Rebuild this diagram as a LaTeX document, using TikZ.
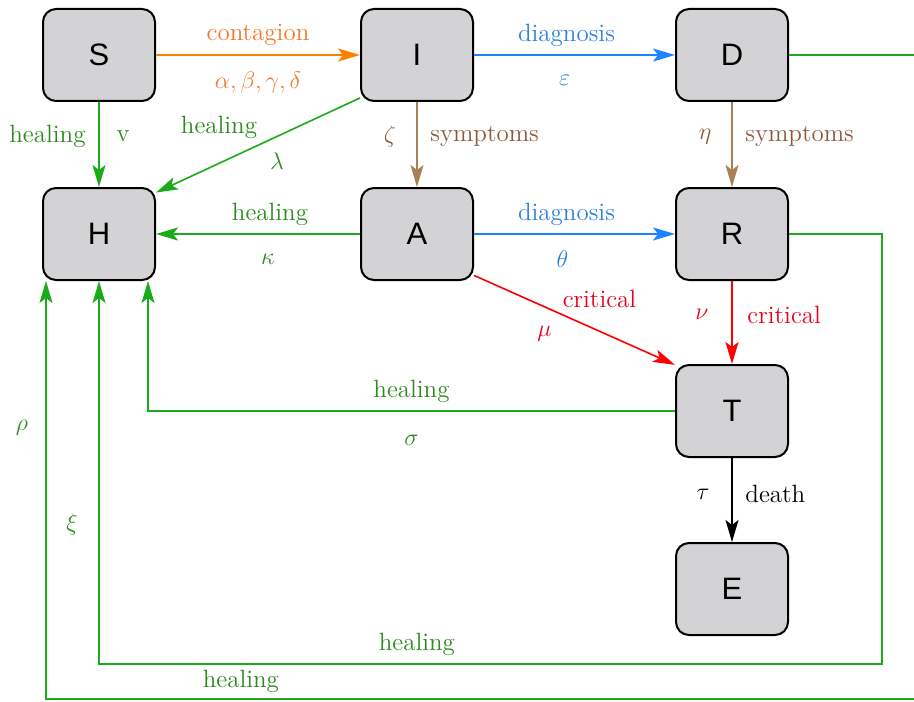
\documentclass[tikz,border=0pt]{standalone}
\usepackage{fontspec}
\usepackage{amsmath}
\usetikzlibrary{arrows.meta,calc,positioning}
\newfontfamily\boxfont{Liberation Sans}
\definecolor{boxgray}{HTML}{D3D3D5}
\definecolor{orangeline}{HTML}{FF8000}
\definecolor{orangetext}{HTML}{F07828}
\definecolor{blueline}{HTML}{1A85FF}
\definecolor{bluetext}{HTML}{2F7FE0}
\definecolor{brownline}{HTML}{A88055}
\definecolor{browntext}{HTML}{8C5A3A}
\definecolor{greenline}{HTML}{1AAA1A}
\definecolor{greentext}{HTML}{2D8A1F}
\definecolor{redline}{HTML}{FF0000}
\definecolor{redtext}{HTML}{E8001C}
\tikzset{
  comp/.style={draw=black,line width=1pt,fill=boxgray,rounded corners=6.5pt,
    minimum width=56pt,minimum height=46pt,font=\boxfont\fontsize{15.5}{18}\selectfont},
  flow/.style={line width=0.8pt,-{Stealth[length=11pt,width=6.5pt,inset=2.5pt]}},
  over/.style={yshift=10pt},
  under/.style={yshift=-12.5pt}
}

\begin{document}
\begin{tikzpicture}[x=0.5pt,y=-0.5pt,every node/.append style={font=\fontsize{12.5}{15}\selectfont}]
			\useasboundingbox (0,0) rectangle (914,701);
			\clip (0,0) rectangle (914,701);
			% compartments
			\node[comp] (S) at (99,55) {S};
			\node[comp] (I) at (417,55) {I};
			\node[comp] (D) at (732,55) {D};
			\node[comp] (H) at (99,234) {H};
			\node[comp] (A) at (417,234) {A};
			\node[comp] (R) at (732,234) {R};
			\node[comp] (T) at (732,411) {T};
			\node[comp] (E) at (732,589) {E};
			\coordinate (rturn) at (882,664);
			\coordinate (dturn) at (940,699);
			% flows
			\draw[flow,orangeline] (S) to node[orangetext,over]{contagion} node[orangetext,yshift=-14pt]{$\alpha, \beta, \gamma, \delta$} (I);
			\draw[flow,blueline] (I) to node[bluetext,over,xshift=-4pt]{diagnosis} node[bluetext,under,xshift=-5pt]{$\varepsilon$} (D);
			\draw[flow,greenline] (S) to node[greentext,left=3pt,yshift=4pt]{healing} node[greentext,xshift=12pt,yshift=4pt]{v} (H);
			\draw[flow,greenline] (I.217) to node[greentext,xshift=-19.5pt,yshift=9pt]{healing} node[greentext,xshift=9.5pt,yshift=-8pt]{$\lambda$} (H.36);
			\draw[flow,brownline] (I) to node[browntext,xshift=-13.5pt,yshift=4pt]{$\zeta$} node[browntext,right=3pt,yshift=4pt]{symptoms} (A);
			\draw[flow,brownline] (D) to node[browntext,xshift=-13.5pt,yshift=4pt]{$\eta$} node[browntext,right=3pt,yshift=4pt]{symptoms} (R);
			\draw[flow,greenline] (A) to node[greentext,over,xshift=6pt]{healing} node[greentext,under,xshift=5pt]{$\kappa$} (H);
			\draw[flow,blueline] (A) to node[bluetext,over,xshift=-4pt]{diagnosis} node[bluetext,under,xshift=-6pt]{$\theta$} (R);
			\draw[flow,redline] (A.-36) to node[redtext,xshift=12.5pt,yshift=10.5pt]{critical} node[redtext,xshift=-15pt,yshift=-7pt]{$\mu$} (T.141);
			\draw[flow,redline] (R) to node[redtext,xshift=-15pt,yshift=4pt]{$\nu$} node[redtext,right=4pt,yshift=4pt]{critical} (T);
			\draw[flow,black] (T) to node[xshift=-14.5pt,yshift=3pt]{$\tau$} node[right=3pt,yshift=3pt]{death} (E);
			\draw[flow,greenline] (T.west) -| node[pos=0.25,greentext,over]{healing} node[pos=0.25,greentext,yshift=-14.5pt]{$\sigma$} ([xshift=24.5pt]H.south);
			\draw[flow,greenline] (R.east) -| (rturn) -| node[pos=0.297,greentext,over]{healing} node[pos=0.682,greentext,xshift=-13.5pt]{$\xi$} (H.south);
			\draw[flow,greenline] (D.east) -| (dturn) -| node[pos=0.391,greentext,yshift=9pt]{healing} node[pos=0.825,greentext,xshift=-12pt]{$\rho$} ([xshift=-26.5pt]H.south);
\end{tikzpicture}
\end{document}
